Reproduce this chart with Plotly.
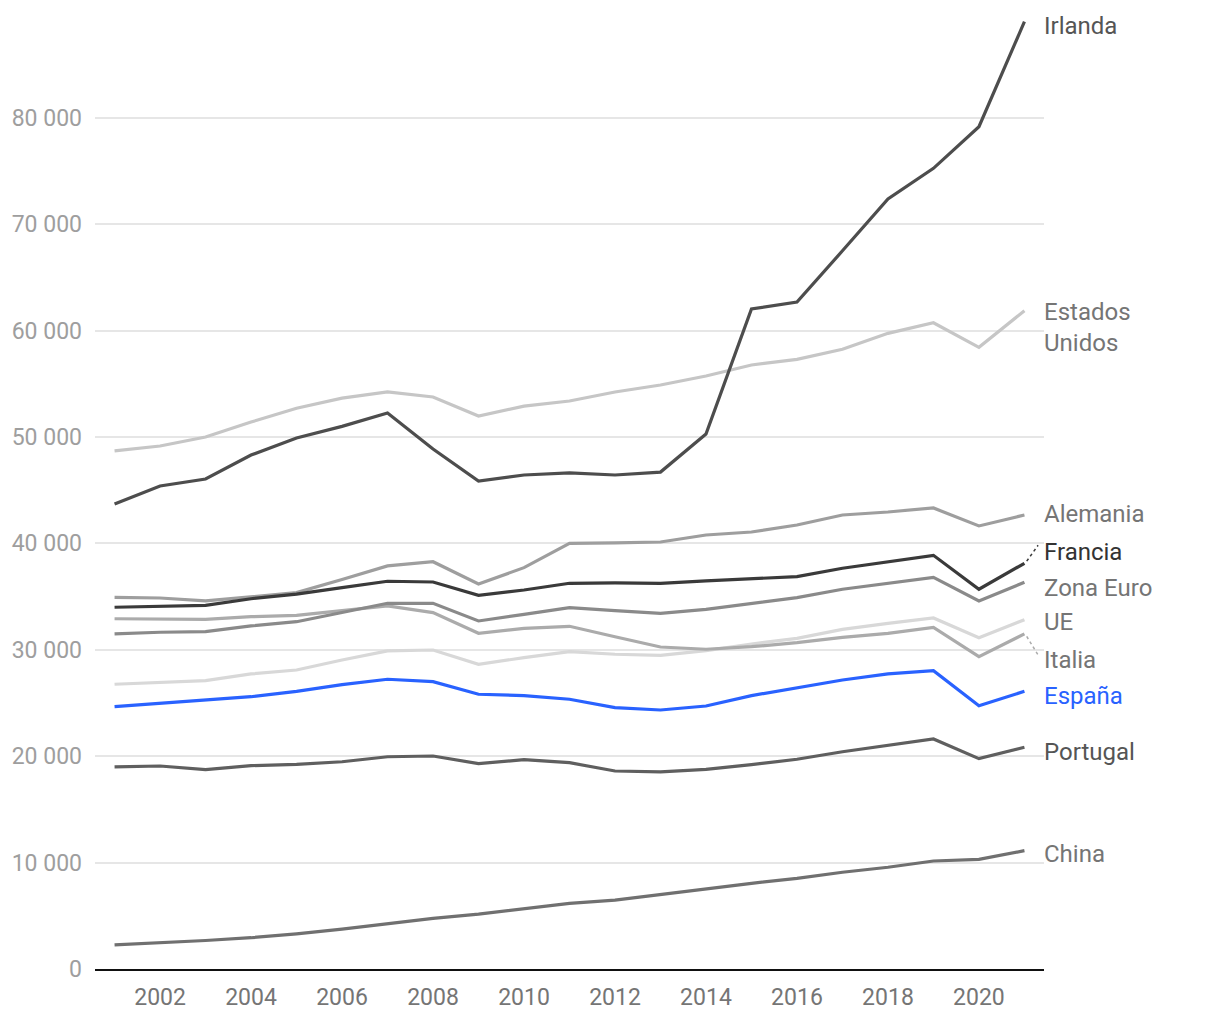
import plotly.graph_objects as go

years = list(range(2001, 2022))

irlanda = [43700, 45400, 46050, 48300, 49900, 51000, 52250, 48870, 45860, 46430, 46620,
           46430, 46700, 50280, 62030, 62690, 67500, 72370, 75250, 79160, 89030]
estados_unidos = [48700, 49150, 50000, 51400, 52700, 53650, 54230, 53760, 51970, 52900, 53380,
                  54230, 54890, 55730, 56770, 57300, 58240, 59740, 60740, 58430, 61870]
alemania = [34930, 34870, 34600, 35000, 35370, 36600, 37880, 38280, 36180, 37720, 40000,
            40040, 40130, 40790, 41070, 41730, 42670, 42950, 43330, 41640, 42670]
francia = [34000, 34100, 34180, 34800, 35240, 35840, 36440, 36370, 35120, 35620, 36250,
           36280, 36250, 36470, 36690, 36880, 37660, 38280, 38880, 35690, 38130]
zona_euro = [31490, 31650, 31700, 32240, 32640, 33490, 34370, 34370, 32710, 33330, 33960,
             33680, 33430, 33800, 34370, 34900, 35690, 36250, 36810, 34590, 36340]
ue = [26760, 26950, 27100, 27730, 28100, 29040, 29890, 29980, 28640, 29260, 29820,
      29580, 29480, 29920, 30540, 31080, 31920, 32490, 32990, 31140, 32830]
italia = [32920, 32920, 32860, 33110, 33240, 33680, 34120, 33490, 31550, 32020, 32210,
          31230, 30260, 30050, 30290, 30670, 31170, 31550, 32110, 29350, 31490]
espana = [24650, 24970, 25280, 25590, 26100, 26720, 27230, 27000, 25820, 25690, 25350,
          24560, 24340, 24720, 25690, 26440, 27160, 27730, 28040, 24750, 26100]
portugal = [18990, 19080, 18730, 19110, 19240, 19480, 19950, 20020, 19300, 19670, 19390,
            18610, 18520, 18770, 19200, 19710, 20420, 21020, 21620, 19770, 20840]
china = [2260, 2450, 2680, 2940, 3300, 3750, 4290, 4760, 5150, 5650, 6170,
         6480, 7020, 7490, 8050, 8520, 9090, 9560, 10150, 10310, 11120]

series_names = ["Irlanda", "Estados<br>Unidos", "Alemania", "Francia", "Zona Euro",
                "UE", "Italia", "España", "Portugal", "China"]
series_values = [irlanda, estados_unidos, alemania, francia, zona_euro,
                 ue, italia, espana, portugal, china]

y_tick_vals = [0, 10000, 20000, 30000, 40000, 50000, 60000, 70000, 80000]
y_tick_text = ["0", "10 000", "20 000", "30 000", "40 000", "50 000",
               "60 000", "70 000", "80 000"]
x_tick_vals = [2002, 2004, 2006, 2008, 2010, 2012, 2014, 2016, 2018, 2020]

# styles
line_colors = ["#4d4d4d", "#c6c6c6", "#9e9e9e", "#3a3a3a", "#8a8a8a",
               "#d8d8d8", "#ababab", "#2962ff", "#5f5f5f", "#707070"]
label_colors = ["#555555", "#757575", "#757575", "#333333", "#757575",
                "#757575", "#757575", "#2962ff", "#555555", "#757575"]
label_shift_px = [-4, -17, 1, 11, -6, -2, -26, -5, -5, -3]
leader_end_px = {3: 18, 6: -21}
draw_order = [5, 1, 6, 2, 4, 9, 8, 7, 3, 0]

fig = go.Figure()
for i in draw_order:
    fig.add_trace(go.Scatter(
        x=years, y=series_values[i], mode="lines", name=series_names[i],
        line=dict(color=line_colors[i], width=3.2), hoverinfo="skip",
        showlegend=False,
    ))

X_MAX = 2021.43
annotations = []
shapes = []
for i, name in enumerate(series_names):
    annotations.append(dict(
        x=X_MAX, y=series_values[i][-1], xref="x", yref="y",
        text=name, showarrow=False, xanchor="left", yanchor="middle",
        xshift=-2, yshift=label_shift_px[i], align="left",
        font=dict(family="Roboto", size=24, color=label_colors[i]),
    ))

# dotted leader lines for Francia and Italia
px_per_unit = 10.64 / 1000.0
for i, end_px in leader_end_px.items():
    y0 = series_values[i][-1]
    shapes.append(dict(
        type="line", xref="x", yref="y",
        x0=2021.05, y0=y0 + (0.12 * end_px) / px_per_unit,
        x1=2021.3, y1=y0 + end_px / px_per_unit,
        line=dict(color=line_colors[i], width=1.5, dash="dot"),
    ))

fig.update_layout(
    width=1220, height=1020,
    margin=dict(l=87, r=184, t=2, b=59),
    paper_bgcolor="white", plot_bgcolor="white",
    font=dict(family="Roboto", size=23, color="#757575"),
    annotations=annotations, shapes=shapes,
    xaxis=dict(
        range=[2000.57, X_MAX], tickvals=x_tick_vals,
        tickfont=dict(family="Roboto", size=23, color="#757575"),
        showgrid=False, zeroline=False, showline=True, linecolor="#111111",
        linewidth=2, ticks="", ticklabelstandoff=6,
    ),
    yaxis=dict(
        range=[0, 90130], tickvals=y_tick_vals, ticktext=y_tick_text,
        tickfont=dict(family="Roboto", size=23, color="#9e9e9e"),
        showgrid=True, gridcolor="#e6e6e6", gridwidth=2, zeroline=False,
        showline=False, ticks="", ticklabelstandoff=12,
    ),
)

fig.write_html("out.html")
